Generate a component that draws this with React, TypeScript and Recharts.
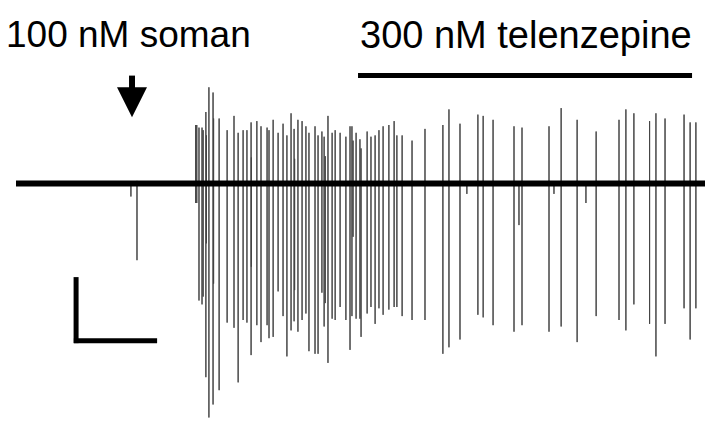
import { ComposedChart, Line, XAxis, YAxis, ReferenceLine, ReferenceDot } from 'recharts';

// spike times (s) with peak / trough amplitude (µV) relative to baseline
const spikeTimes = [
  41.7, 43.9, 65.2, 65.6, 66.4, 67.5, 67.9, 68.9, 69.1, 70.0, 71.5, 71.7, 73.7, 76.6, 79.1, 80.6, 82.4, 83.8, 85.3, 85.4,
  87.4, 88.9, 91.1, 91.8, 93.3, 95.1, 96.9, 98.3, 99.8, 100.9, 101.1, 102.3, 103.8, 105.2, 106.3, 108.5, 109.6, 111.0, 111.8, 112.2,
  113.2, 114.7, 115.8, 117.6, 119.7, 121.2, 121.9, 122.3, 123.4, 124.8, 125.2, 127.4, 128.8, 130.3, 131.7, 133.2, 135.3, 137.2, 138.2, 140.1,
  143.7, 148.4, 154.9, 157.1, 161.1, 163.6, 167.6, 169.5, 173.1, 180.7, 182.5, 183.6, 193.4, 195.2, 197.8, 203.6, 206.8, 210.5, 218.8, 221.3,
  224.2, 229.9, 232.2, 235.5, 242.4, 244.6, 246.7,
];
const spikePeaks = [
  0, 20, 450, 450, 430, 430, 410, 550, 370, 740, 700, 500, 500, 410, 520, 390, 410, 410, 470, 200,
  480, 440, 430, 410, 490, 390, 460, 370, 540, 420, 190, 490, 480, 440, 390, 440, 370, 400, 360, 210,
  520, 390, 410, 390, 360, 440, 440, 330, 390, 340, 270, 400, 360, 370, 410, 440, 450, 480, 370, 370,
  330, 420, 450, 570, 460, 0, 530, 520, 490, 440, 0, 430, 440, 0, 580, 490, 0, 400, 490, 570,
  540, 480, 540, 500, 530, 470, 470,
];
const spikeTroughs = [
  -100, -590, -150, -150, -900, -930, -870, -1490, -460, -1800, -1700, -770, -1590, -1070, -1110, -1530, -1050, -1070, -1320, -640,
  -1090, -1220, -1090, -1190, -1180, -830, -1020, -1330, -1130, -1060, -820, -1140, -1050, -1000, -1290, -1310, -1310, -840, -1100, -920,
  -1380, -1040, -1050, -950, -1050, -1280, -1020, -410, -1040, -1040, -1180, -1000, -950, -1080, -960, -1010, -970, -950, -950, -1020,
  -1050, -1050, -1310, -1260, -1200, -80, -1010, -1030, -1090, -1140, -320, -1090, -1140, -80, -1100, -1220, -150, -1020, -1050, -1130,
  -930, -1080, -1330, -1080, -960, -1200, -960,
];

const recordEnd = 250;
const somanTime = 42.1;
const telenzepineStart = 124.1;
const telenzepineEnd = 245.3;

const trace: { t: number; v: number }[] = [{ t: 0, v: 0 }];
spikeTimes.forEach((t, i) => {
  trace.push({ t, v: 0 }, { t, v: spikePeaks[i] }, { t, v: spikeTroughs[i] }, { t, v: 0 });
});
trace.push({ t: recordEnd, v: 0 });

// thick noise band of the baseline, drawn over the trace
const baseline = [
  { t: 0, base: 0 },
  { t: recordEnd, base: 0 },
];

const labelStyle: React.CSSProperties = {
  position: 'absolute',
  fontFamily: '"Liberation Sans", Arial, sans-serif',
  fontSize: 37,
  lineHeight: 1,
  color: '#000',
  whiteSpace: 'nowrap',
};

const ArrowHead = (props: any) => {
  const { cx, cy } = props;
  return <polygon points={`${cx - 15},${cy} ${cx + 15},${cy} ${cx},${cy + 30}`} fill="#000" />;
};

export default function App() {
  return (
    <div style={{ position: 'absolute', left: 0, top: 0, width: 706, height: 434, background: '#fff' }}>
      <ComposedChart width={706} height={434} data={trace} margin={{ top: 66.5, right: 1, bottom: 3.5, left: 16 }}>
        <XAxis type="number" dataKey="t" domain={[0, recordEnd]} hide />
        <YAxis type="number" domain={[-1900, 900]} hide allowDataOverflow />
        <Line dataKey="v" stroke="#444" strokeWidth={1} dot={false} isAnimationActive={false} />
        <Line data={baseline} dataKey="base" stroke="#000" strokeWidth={6} dot={false} isAnimationActive={false} />
        {/* soman arrow */}
        <ReferenceLine segment={[{ x: somanTime, y: 830 }, { x: somanTime, y: 730 }]} stroke="#000" strokeWidth={6} />
        <ReferenceDot x={somanTime} y={740} shape={ArrowHead} />
        {/* telenzepine bar */}
        <ReferenceLine segment={[{ x: telenzepineStart, y: 830 }, { x: telenzepineEnd, y: 830 }]} stroke="#000" strokeWidth={5} />
        {/* scale bar: 500 µV, 30 s */}
        <ReferenceLine segment={[{ x: 21.8, y: -720 }, { x: 21.8, y: -1228 }]} stroke="#000" strokeWidth={5} />
        <ReferenceLine segment={[{ x: 21, y: -1210 }, { x: 51.2, y: -1210 }]} stroke="#000" strokeWidth={5} />
      </ComposedChart>
      <div style={{ ...labelStyle, left: 6, top: 16 }}>100 nM soman</div>
      <div style={{ ...labelStyle, left: 360, top: 15.5, fontSize: 38 }}>300 nM telenzepine</div>
    </div>
  );
}
